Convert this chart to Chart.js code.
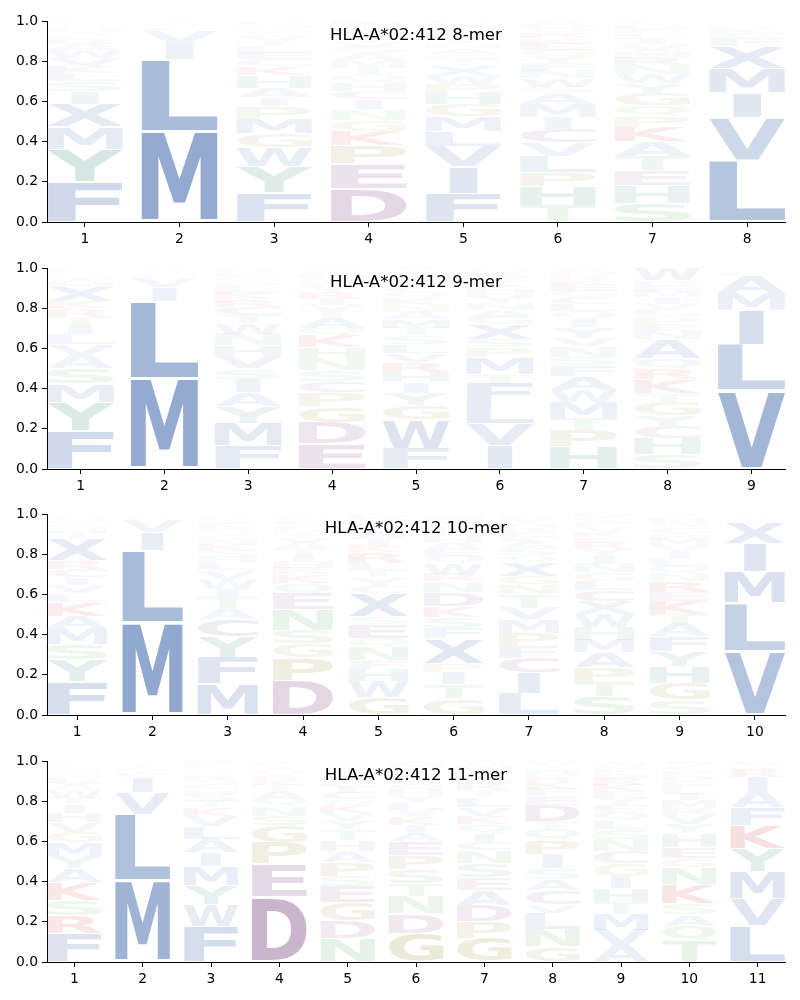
<!DOCTYPE html>
<html>
<head>
<meta charset="utf-8">
<script src="https://cdn.jsdelivr.net/npm/chart.js@4.4.0/dist/chart.umd.min.js"></script>
<style>
body { margin: 0; background: #fff; width: 800px; height: 1000px; overflow: hidden; position: relative; }
.panel { position: absolute; left: 0; width: 800px; height: 247px; }
</style>
</head>
<body>
<div class="panel" style="top:0px"><canvas id="c8"></canvas></div>
<div class="panel" style="top:247px"><canvas id="c9"></canvas></div>
<div class="panel" style="top:493px"><canvas id="c10"></canvas></div>
<div class="panel" style="top:740px"><canvas id="c11"></canvas></div>
<script>
var allele = "HLA-A*02:412";
var yTicks = [0, 0.2, 0.4, 0.6, 0.8, 1.0];

// letters of each position, bottom to top, with their heights
var letters8 = [
	"FYMXISLKVWARCTHQNE",
	"MLIVFYATQ",
	"FYWGMPIAHKCELTVSRNDQ",
	"DEPKGNICHQTMASVYRFWL",
	"FIVLMGHPWXTSANYKECRQD",
	"THPLVCIMASWNFYGEKRQDX",
	"SHETAKPQGYWNRMVILFDC",
	"LVIMXFEKRTY"
];
var heights8 = [
	[.20, .16, .11, .115, .06, .05, .04, .035, .04, .04, .03, .025, .02, .02, .015, .015, .01, .01],
	[.45, .36, .08, .06, .015, .01, .01, .01, .005],
	[.14, .12, .09, .065, .07, .06, .04, .045, .06, .04, .035, .03, .03, .025, .025, .02, .015, .015, .01, .01],
	[.155, .115, .08, .065, .05, .05, .045, .04, .04, .035, .035, .03, .03, .03, .025, .025, .02, .02, .015, .015],
	[.14, .13, .10, .075, .07, .06, .06, .04, .04, .05, .03, .03, .025, .025, .02, .02, .02, .015, .015, .01, .01],
	[.075, .09, .065, .075, .06, .065, .055, .06, .05, .03, .04, .035, .035, .03, .03, .03, .025, .025, .02, .02, .015],
	[.085, .08, .065, .065, .065, .065, .05, .045, .055, .045, .04, .04, .035, .03, .03, .025, .025, .02, .02, .015],
	[.31, .21, .125, .12, .11, .04, .025, .02, .015, .015, .01]
];

var letters9 = [
	"FYMSAVLITRKXHWQGEN",
	"MLIVFYAT",
	"FMYAISVHNWTCRKLQGEPD",
	"EDGPCSNHKQATVIRYFMLWX",
	"FWGYIHRVLSTMANKQCPEDX",
	"IVLFTMPSXGANYHCKERQW",
	"HPTMWAFSNVYIQLCGEKRDX",
	"SHCYGTKRQANEPLVIMFDW",
	"VLIMAFYTS"
];
var heights9 = [
	[.19, .14, .09, .075, .065, .055, .05, .045, .04, .04, .035, .07, .025, .02, .015, .015, .01, .01],
	[.45, .385, .07, .05, .015, .01, .01, .01],
	[.11, .11, .08, .065, .065, .05, .06, .05, .055, .05, .04, .04, .035, .03, .03, .025, .02, .02, .015, .01],
	[.12, .10, .075, .065, .055, .05, .06, .05, .055, .035, .05, .03, .03, .03, .03, .025, .02, .02, .02, .015, .015],
	[.095, .13, .065, .055, .05, .05, .045, .04, .04, .04, .035, .04, .035, .03, .03, .03, .025, .025, .025, .02, .015],
	[.12, .108, .10, .10, .05, .083, .05, .04, .075, .04, .035, .035, .03, .03, .025, .025, .02, .02, .015, .01],
	[.105, .075, .058, .075, .058, .066, .05, .04, .05, .04, .05, .04, .035, .035, .03, .03, .03, .025, .02, .02, .015],
	[.07, .075, .058, .05, .066, .04, .066, .05, .05, .09, .04, .035, .035, .03, .03, .03, .03, .025, .025, .06],
	[.39, .23, .17, .085, .085, .015, .01, .01, .005]
];

var letters10 = [
	"FYSMAKLVICRXTHGNWQ",
	"MLIVFYA",
	"MFYCATIWVLHSKNGQREPDX",
	"DPGSNEQKRHITAVYMFCLWX",
	"GWHFNQESXCYTLRKIAVMPD",
	"GTIPXFSKDNRWQEAHLVYMC",
	"LICFPMVTNGXQSAKERHYDW",
	"STPAMHWXCLGNIYREKVFQD",
	"SGHYFATKERNQLIVMPCWDX",
	"VLMIXFAYT"
];
var heights10 = [
	[.158, .10, .075, .075, .058, .066, .04, .04, .033, .04, .04, .10, .03, .025, .02, .02, .015, .01],
	[.46, .36, .09, .06, .01, .01, .01],
	[.15, .13, .10, .083, .05, .058, .04, .05, .04, .035, .03, .03, .03, .025, .025, .02, .02, .02, .015, .015, .01],
	[.166, .108, .066, .066, .10, .075, .05, .04, .03, .03, .03, .03, .03, .025, .02, .02, .02, .02, .015, .01, .01],
	[.083, .075, .058, .04, .066, .04, .066, .035, .11, .035, .04, .035, .035, .05, .03, .03, .03, .025, .025, .02, .02],
	[.075, .066, .058, .04, .116, .05, .05, .05, .066, .05, .035, .05, .035, .03, .03, .03, .025, .025, .02, .02, .015],
	[.108, .10, .075, .058, .066, .066, .058, .066, .05, .04, .07, .035, .035, .03, .025, .025, .02, .02, .02, .015, .015],
	[.083, .066, .066, .066, .058, .058, .058, .058, .05, .04, .04, .04, .035, .03, .03, .025, .025, .025, .02, .02, .015],
	[.066, .075, .075, .066, .066, .058, .04, .058, .04, .05, .035, .035, .03, .03, .03, .03, .025, .025, .025, .02, .015],
	[.316, .24, .158, .14, .10, .015, .01, .01, .01]
];

var letters11 = [
	"FRSKAYMGVHITWXLNQECP",
	"MLVIFYATSQ",
	"FWYMIALVKTSHCNRGQEPD",
	"DEPGSNQATKRVHILMY",
	"NDGESPAHTYVKQCILRMFWX",
	"GDNTSPEAIKVLYHQRCFMW",
	"GPDAESNCIQKVLTRHYFMW",
	"GNLVCASIPQTDEFKRMHYW",
	"AVMTHIGCNSLQFYEKRDPWX",
	"TQASKNGEHYVRMILFDPCW",
	"LVMYKFAIRTSEW"
];
var heights11 = [
	[.135, .083, .075, .083, .066, .058, .066, .05, .045, .045, .04, .03, .04, .03, .025, .02, .02, .015, .015, .01],
	[.40, .33, .107, .075, .02, .015, .015, .01, .01, .01],
	[.17, .10, .09, .09, .066, .066, .058, .05, .04, .03, .03, .025, .025, .02, .02, .02, .015, .015, .01, .01],
	[.326, .165, .107, .083, .05, .05, .04, .035, .03, .025, .02, .015, .015, .015, .01, .01, .01],
	[.11, .083, .083, .075, .05, .066, .05, .05, .05, .04, .035, .035, .03, .03, .03, .025, .025, .02, .02, .015, .015],
	[.135, .09, .083, .058, .066, .066, .066, .04, .035, .04, .035, .03, .03, .03, .03, .025, .025, .02, .02, .015],
	[.11, .075, .075, .066, .058, .066, .058, .04, .04, .04, .04, .04, .045, .03, .03, .025, .025, .02, .02, .015],
	[.07, .083, .075, .04, .066, .05, .05, .066, .066, .05, .035, .075, .04, .035, .03, .025, .02, .02, .02, .015],
	[.078, .075, .075, .058, .066, .058, .058, .058, .058, .05, .04, .04, .035, .035, .03, .03, .03, .025, .025, .02, .015],
	[.094, .066, .05, .05, .083, .075, .04, .05, .06, .04, .04, .03, .035, .03, .03, .025, .025, .025, .02, .02],
	[.17, .124, .124, .107, .107, .083, .075, .066, .04, .01, .01, .01, .005]
];

// colour groups of residues
var groupLetters = ["AFILMVWX", "YH", "DEC", "GP", "STNQ", "KR"];
var groupColors = ["76,114,176", "64,145,126", "134,81,139", "150,140,50", "90,170,95", "200,50,50"];

function letterColor(ch, h) {
	var rgb = groupColors[0];
	for (var g = 0; g < groupLetters.length; g++) {
		if (groupLetters[g].indexOf(ch) >= 0) rgb = groupColors[g];
	}
	var a = Math.min(1, h * 1.33);
	return 'rgba(' + rgb + ',' + a.toFixed(3) + ')';
}

var glyphFont = 'bold 200px "DejaVu Sans"';
var glyphCache = {};
function glyphBox(ctx, ch) {
	if (!glyphCache[ch]) {
		ctx.save();
		ctx.font = glyphFont;
		var m = ctx.measureText(ch);
		glyphCache[ch] = { l: m.actualBoundingBoxLeft, r: m.actualBoundingBoxRight, a: m.actualBoundingBoxAscent, d: m.actualBoundingBoxDescent };
		ctx.restore();
	}
	return glyphCache[ch];
}

// draws each letter stretched into its bar's rectangle;
// narrow glyphs (I) are not stretched wider than an E would be
var logoPlugin = {
	id: 'logo',
	afterDatasetsDraw: function(chart) {
		var ctx = chart.ctx;
		var ref = glyphBox(ctx, 'E');
		var refW = ref.l + ref.r;
		chart.data.datasets.forEach(function(ds, di) {
			var meta = chart.getDatasetMeta(di);
			meta.data.forEach(function(bar, i) {
				var pt = ds.data[i];
				var p = bar.getProps(['x', 'y', 'base', 'width'], true);
				var top = Math.min(p.y, p.base), bottom = Math.max(p.y, p.base);
				var h = bottom - top;
				var pad = h * 0.025;
				var g = glyphBox(ctx, pt.letter);
				var gw = g.l + g.r;
				var sx = Math.min(p.width / gw, p.width / refW);
				var drawnW = gw * sx;
				ctx.save();
				ctx.translate(p.x - drawnW / 2, bottom - pad);
				ctx.scale(sx, (h - 2 * pad) / (g.a + g.d));
				ctx.font = glyphFont;
				ctx.textBaseline = 'alphabetic';
				ctx.textAlign = 'left';
				ctx.fillStyle = letterColor(pt.letter, pt.h);
				ctx.fillText(pt.letter, g.l, -g.d);
				ctx.restore();
			});
		});
	}
};

var titlePlugin = {
	id: 'inTitle',
	afterDraw: function(chart, args, opts) {
		var ctx = chart.ctx, a = chart.chartArea;
		ctx.save();
		ctx.font = '16.6px "DejaVu Sans"';
		ctx.fillStyle = '#000';
		ctx.textAlign = 'center';
		ctx.textBaseline = 'middle';
		ctx.fillText(opts.text, (a.left + a.right) / 2, a.top + 15);
		ctx.restore();
	}
};

function buildDatasets(letters, heights) {
	var datasets = [];
	letters.forEach(function(col, p) {
		var hs = heights[p];
		var total = hs.reduce(function(s, v) { return s + v; }, 0);
		var cum = 0;
		for (var r = 0; r < col.length; r++) {
			var h = hs[r] / total;
			if (!datasets[r]) {
				datasets[r] = { data: [], backgroundColor: 'rgba(0,0,0,0)', borderWidth: 0,
					grouped: false, barPercentage: 0.8, categoryPercentage: 1 };
			}
			datasets[r].data.push({ x: p + 1, y: [cum, cum + h], letter: col[r], h: h });
			cum += h;
		}
	});
	return datasets;
}

function makeLogo(id, k, letters, heights) {
	var positions = letters.map(function(c, i) { return i + 1; });
	var ctx = document.getElementById(id).getContext('2d');
	return new Chart(ctx, {
		type: 'bar',
		data: { datasets: buildDatasets(letters, heights) },
		options: {
			responsive: true,
			maintainAspectRatio: false,
			animation: false,
			events: [],
			layout: { padding: { top: 21, right: 15, left: 0, bottom: 0 } },
			plugins: {
				legend: { display: false },
				tooltip: { enabled: false },
				inTitle: { text: allele + ' ' + k + '-mer' }
			},
			scales: {
				x: {
					type: 'linear',
					min: 0.6,
					max: k + 0.4,
					offset: false,
					afterBuildTicks: function(axis) {
						axis.ticks = positions.map(function(v) { return { value: v }; });
					},
					afterFit: function(axis) { axis.height = 25; },
					ticks: { color: '#000', padding: 4, autoSkip: false, maxRotation: 0,
						callback: function(v) { return String(v); } },
					grid: { display: true, drawOnChartArea: false, drawTicks: true, tickLength: 5, color: '#000', offset: false },
					border: { display: true, color: '#000', width: 1 }
				},
				y: {
					min: 0,
					max: 1,
					afterBuildTicks: function(axis) {
						axis.ticks = yTicks.map(function(v) { return { value: v }; });
					},
					afterFit: function(axis) { axis.width = 47; },
					ticks: { color: '#000', padding: 4, callback: function(v) { return v.toFixed(1); } },
					grid: { display: true, drawOnChartArea: false, drawTicks: true, tickLength: 5, color: '#000' },
					border: { display: true, color: '#000', width: 1 }
				}
			}
		},
		plugins: [logoPlugin, titlePlugin]
	});
}

Chart.defaults.font.family = '"DejaVu Sans"';
Chart.defaults.font.size = 13.9;

makeLogo('c8', 8, letters8, heights8);
makeLogo('c9', 9, letters9, heights9);
makeLogo('c10', 10, letters10, heights10);
makeLogo('c11', 11, letters11, heights11);
</script>
</body>
</html>
